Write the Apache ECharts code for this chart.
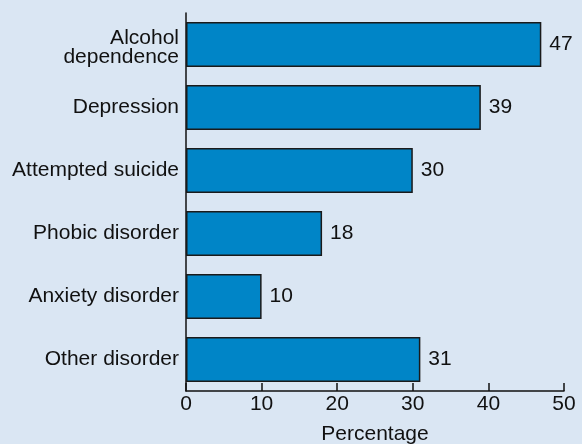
<!DOCTYPE html>
<html>
<head>
<meta charset="utf-8">
<script src="https://cdn.jsdelivr.net/npm/echarts@6/dist/echarts.min.js"></script>
<style>
  html, body { margin: 0; padding: 0; background: #dae6f3; }
  #chart { width: 582px; height: 444px; }
</style>
</head>
<body>
<div id="chart"></div>
<script>
// Disorder categories, top to bottom
const categories = [
  'Alcohol\ndependence',
  'Depression',
  'Attempted suicide',
  'Phobic disorder',
  'Anxiety disorder',
  'Other disorder'
];
// Percentage for each category
const percentages = [47, 39, 30, 18, 10, 31];
// Value axis ticks
const xTicks = [0, 10, 20, 30, 40, 50];

const font = '"Liberation Sans", Arial, Helvetica, sans-serif';
const fs = 21;
const chart = echarts.init(document.getElementById('chart'));

// Two-line labels get a thin spacer row on top so they sit a little lower
function categoryLabel(value) {
  if (value.indexOf('\n') < 0) return value;
  return '{s| }\n' + value.split('\n').map(function (p) { return '{m|' + p + '}'; }).join('\n');
}

chart.setOption({
  backgroundColor: '#dae6f3',
  animation: false,
  grid: { left: 186, right: 18, top: 13, bottom: 53, containLabel: false, outerBoundsMode: 'none' },
  xAxis: {
    type: 'value',
    min: xTicks[0],
    max: xTicks[xTicks.length - 1],
    interval: 10,
    name: 'Percentage',
    nameLocation: 'middle',
    nameGap: 33,
    nameTextStyle: { color: '#111', fontSize: fs, fontFamily: font },
    axisLine: { show: true, lineStyle: { color: '#111', width: 1.5 } },
    axisTick: { show: true, inside: true, length: 8, lineStyle: { color: '#111', width: 1.5 } },
    axisLabel: { color: '#111', fontSize: fs, fontFamily: font, margin: 3 },
    splitLine: { show: false }
  },
  yAxis: {
    type: 'category',
    data: categories,
    inverse: true,
    axisLine: { show: true, lineStyle: { color: '#111', width: 1.5 } },
    axisTick: { show: false },
    axisLabel: {
      color: '#111', fontSize: fs, fontFamily: font, margin: 7,
      lineHeight: 19, align: 'right',
      formatter: categoryLabel,
      rich: {
        s: { fontSize: 1, lineHeight: 7 },
        m: { color: '#111', fontSize: fs, fontFamily: font, lineHeight: 19, align: 'right' }
      }
    }
  },
  series: [{
    type: 'bar',
    data: percentages,
    barCategoryGap: '28.5%',
    itemStyle: { color: '#0085c7', borderColor: '#1a1a1a', borderWidth: 1.5 },
    label: {
      show: true,
      position: 'right',
      distance: 8,
      color: '#111',
      fontSize: fs,
      fontFamily: font
    }
  }]
});
</script>
</body>
</html>
